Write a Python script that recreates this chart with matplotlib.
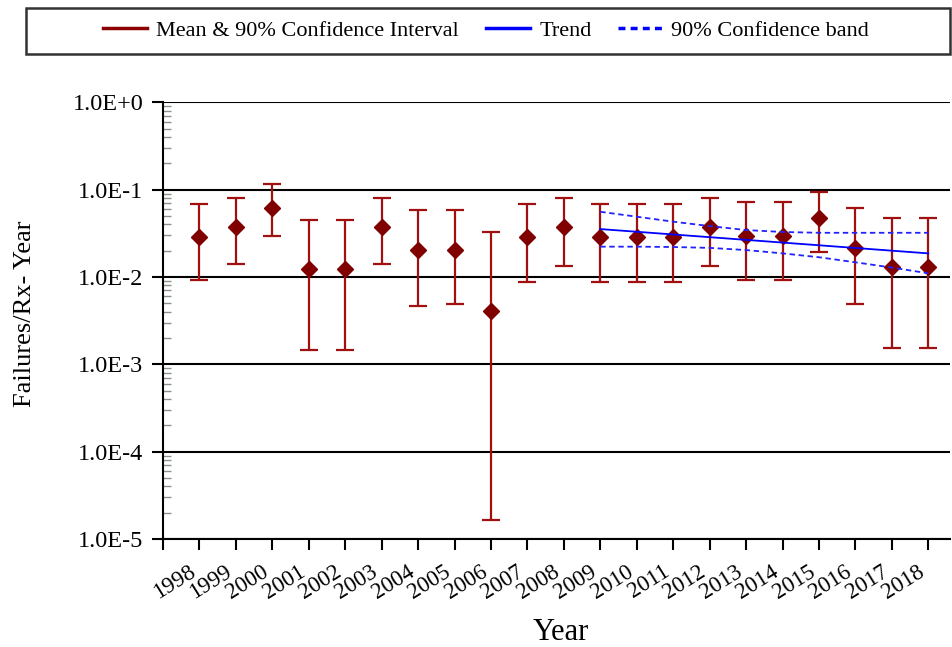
import matplotlib.pyplot as plt
import matplotlib.ticker as mticker
from matplotlib.lines import Line2D
from matplotlib.patches import Rectangle

plt.rcParams['font.family'] = ['Liberation Serif', 'DejaVu Serif']

# Failure rate per reactor-year: mean with 90% interval
years = [1998, 1999, 2000, 2001, 2002, 2003, 2004, 2005, 2006, 2007, 2008,
         2009, 2010, 2011, 2012, 2013, 2014, 2015, 2016, 2017, 2018]
mean = [0.0288, 0.037, 0.0614, 0.0124, 0.0124, 0.037, 0.0205, 0.0205, 0.0041,
        0.0288, 0.037, 0.0288, 0.0288, 0.0288, 0.037, 0.0293, 0.0296, 0.0468,
        0.0212, 0.0130, 0.0130]
upper = [0.0682, 0.080, 0.1156, 0.0444, 0.0444, 0.080, 0.0583, 0.0583, 0.0327,
         0.068, 0.080, 0.068, 0.068, 0.068, 0.080, 0.0714, 0.0714, 0.0944,
         0.061, 0.0468, 0.0468]
lower = [0.0092, 0.0141, 0.0294, 0.00145, 0.00145, 0.0141, 0.00465, 0.00486,
         1.65e-5, 0.00867, 0.0133, 0.0088, 0.0088, 0.0088, 0.0133, 0.0092,
         0.0092, 0.0194, 0.00486, 0.00152, 0.00152]

# trend fitted over the last ten years
trend_years = [2009, 2018]
trend_vals = [0.0353, 0.0186]
band_years = [2009, 2010, 2011, 2012, 2013, 2014, 2015, 2016, 2017, 2018]
band_upper = [0.0557, 0.0489, 0.0429, 0.0382, 0.0344, 0.0327, 0.032, 0.032, 0.032, 0.032]
band_lower = [0.0222, 0.0222, 0.0220, 0.0215, 0.0203, 0.0186, 0.0168, 0.0147, 0.0128, 0.011]

ytick_vals = [1e0, 1e-1, 1e-2, 1e-3, 1e-4, 1e-5]
ytick_labels = ['1.0E+0', '1.0E-1', '1.0E-2', '1.0E-3', '1.0E-4', '1.0E-5']

red = '#8b0000'
blue = '#0000ff'

fig = plt.figure(figsize=(9.53, 6.47), dpi=100)
ax = fig.add_axes([0.171, 0.167, 0.826, 0.675])

err_lo = [m - l for m, l in zip(mean, lower)]
err_hi = [u - m for m, u in zip(mean, upper)]
ax.errorbar(years, mean, yerr=[err_lo, err_hi], fmt='D', color=red,
            ecolor='#a01010', elinewidth=1.6, capsize=6.2, capthick=1.6,
            markersize=8, markerfacecolor='#800000', markeredgecolor='#800000', zorder=3)

ax.plot(trend_years, trend_vals, color=blue, lw=1.3, zorder=4)
ax.plot(band_years, band_upper, color='#2222ff', lw=1.3, dashes=(3, 2), zorder=4)
ax.plot(band_years, band_lower, color='#2222ff', lw=1.3, dashes=(3, 2), zorder=4)

ax.set_yscale('log')
ax.set_ylim(1e-5, 1e0)
ax.set_xlim(1997, 2018.6)

for v in ytick_vals:
    ax.axhline(v, color='black', lw=1.5, zorder=1)

ax.set_yticks(ytick_vals)
ax.yaxis.set_major_formatter(mticker.FixedFormatter(ytick_labels))
ax.yaxis.set_minor_locator(mticker.LogLocator(base=10, subs=range(2, 10), numticks=20))
ax.yaxis.set_minor_formatter(mticker.NullFormatter())
ax.tick_params(axis='y', which='major', direction='out', length=8, width=1.5,
               labelsize=17.5, pad=6)
ax.tick_params(axis='y', which='minor', direction='in', length=6, width=1,
               color='#8a948a')

ax.set_xticks(list(range(1997, 2019)))
ax.set_xticklabels([''] + [str(y) for y in years])
ax.tick_params(axis='x', which='major', direction='out', length=8, width=1.5,
               labelsize=16.5, pad=8)
for lbl in ax.get_xticklabels():
    lbl.set_rotation(32)
    lbl.set_ha('right')
    lbl.set_va('top')

for side in ['top', 'right']:
    ax.spines[side].set_visible(False)
ax.spines['left'].set_linewidth(1.5)
ax.spines['bottom'].set_linewidth(1.5)

fig.text(561 / 953, 1 - 632 / 647, 'Year', fontsize=22, ha='center', va='center')
fig.text(0.026, 0.515, 'Failures/Rx- Year', rotation=90, fontsize=19,
         ha='center', va='center')

# legend strip across the top
fig.patches.append(Rectangle((26 / 953, 1 - 54 / 647), 924 / 953, 46 / 647,
                             transform=fig.transFigure, fill=False,
                             edgecolor='#333333', lw=1.8))
handles = [Line2D([], [], color=red, lw=2.5),
           Line2D([], [], color=blue, lw=2.5),
           Line2D([], [], color=blue, lw=2.5, dashes=(2, 1.5))]
fig.legend(handles, ['Mean & 90% Confidence Interval', 'Trend', '90% Confidence band'],
           loc='center', bbox_to_anchor=(0.51, 1 - 31 / 647), ncol=3, frameon=False,
           fontsize=16, handlelength=2.0, handletextpad=0.4, columnspacing=1.2)

fig.savefig('out.png', dpi=100)
